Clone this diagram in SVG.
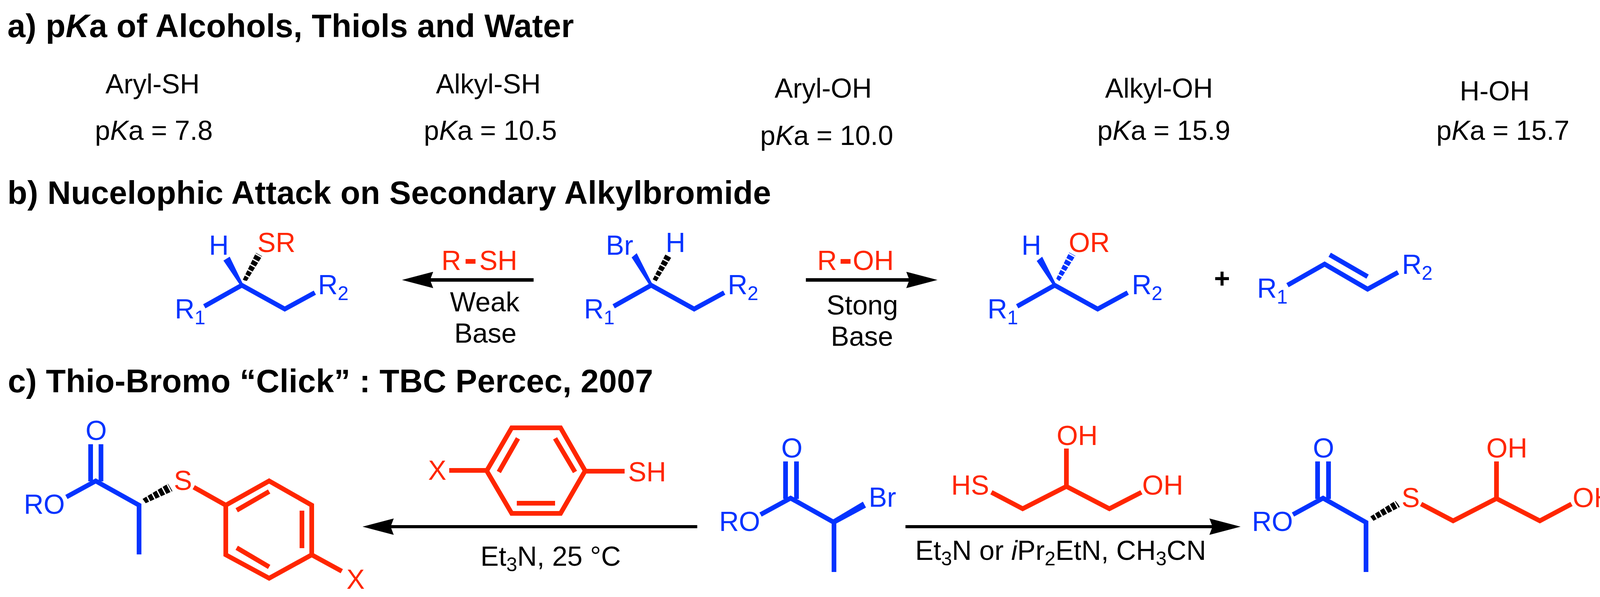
<svg xmlns="http://www.w3.org/2000/svg" width="4150" height="1528" viewBox="0 0 4150 1528">
<style>
text{font-family:"Liberation Sans",Arial,sans-serif;font-size:70px;fill:#000}
.h{font-size:83px;font-weight:bold}
.b{fill:#0433FF}
.r{fill:#FF2600}
.bond{fill:none;stroke-width:12;stroke-linejoin:miter;stroke-miterlimit:6}
.sb{stroke:#0433FF}
.sr{stroke:#FF2600}
.w{fill:#0433FF}
.hash{stroke-width:44;stroke-dasharray:11.5 3.5;fill:none}
.arrow{stroke:#000;stroke-width:9;fill:none;marker-end:url(#head)}
.dash{font-size:100px;font-weight:bold}
</style>
<defs>
<marker id="head" markerUnits="userSpaceOnUse" viewBox="0 0 80 42" refX="10" refY="21" markerWidth="80" markerHeight="42" orient="auto"><path d="M0 0L80 21L0 42L8 21Z" fill="#000"/></marker>
<clipPath id="c1"><polygon points="655,647 671,656 632,719 621,717"/></clipPath>
<clipPath id="c2"><polygon points="1704,650 1718,660 1681,720 1671,715"/></clipPath>
<clipPath id="c3"><polygon points="2737,646 2753,655 2712,720 2704,713"/></clipPath>
<clipPath id="c4"><polygon points="430,1238 442,1257 373,1288 365,1277"/></clipPath>
<clipPath id="c5"><polygon points="3572,1282 3585,1297 3516,1333 3508,1322"/></clipPath>
</defs>
<rect width="4150" height="1528" fill="#fff"/>

<g id="headings">
<text class="h" x="19" y="95" textLength="1450">a) p<tspan font-style="italic">K</tspan>a of Alcohols, Thiols and Water</text>
<text class="h" x="19" y="522" textLength="1955">b) Nucelophic Attack on Secondary Alkylbromide</text>
<text class="h" x="20" y="1004" textLength="1652">c) Thio-Bromo “Click” : TBC Percec, 2007</text>
</g>

<g id="pka-aryl-sh"><text x="270" y="239">Aryl-SH</text><text x="243" y="358">p<tspan font-style="italic">K</tspan>a = 7.8</text></g>
<g id="pka-alkyl-sh"><text x="1116" y="239">Alkyl-SH</text><text x="1085" y="358">p<tspan font-style="italic">K</tspan>a = 10.5</text></g>
<g id="pka-aryl-oh"><text x="1983" y="250">Aryl-OH</text><text x="1946" y="371">p<tspan font-style="italic">K</tspan>a = 10.0</text></g>
<g id="pka-alkyl-oh"><text x="2829" y="250">Alkyl-OH</text><text x="2809" y="358">p<tspan font-style="italic">K</tspan>a = 15.9</text></g>
<g id="pka-h-oh"><text x="3737" y="257">H-OH</text><text x="3677" y="358">p<tspan font-style="italic">K</tspan>a = 15.7</text></g>

<g id="connectors">
<line class="arrow" x1="1366" y1="716.5" x2="1099" y2="716.5"/>
<line class="arrow" x1="2063" y1="716.5" x2="2330" y2="716.5"/>
<line class="arrow" x1="1785" y1="1348" x2="998" y2="1348" style="stroke-width:8"/>
<line class="arrow" x1="2318" y1="1348" x2="3106" y2="1348" style="stroke-width:8"/>
</g>

<g id="b-thioether">
<polyline class="bond sb" points="523,784 619,730 729,791 806,749"/>
<polygon class="w" points="588,657 572,667 614,729 622,727"/>
<line class="hash" stroke="#000" x1="626" y1="718" x2="664" y2="650" clip-path="url(#c1)"/>
<text class="b" x="535" y="652">H</text>
<text class="r" x="659" y="645">SR</text>
<text class="b" x="447.5" y="815">R<tspan font-size="50" dy="15">1</tspan></text>
<text class="b" x="814" y="753">R<tspan font-size="50" dy="15">2</tspan></text>
</g>

<g id="b-reagent-thiol">
<text class="r" x="1130" y="691">R<tspan class="dash" x="1188" dy="4">-</tspan><tspan x="1227" dy="-4">SH</tspan></text>
<text x="1152" y="797">Weak</text>
<text x="1163" y="877">Base</text>
</g>

<g id="b-bromide">
<polyline class="bond sb" points="1571,784 1667,730 1777,791 1854,749"/>
<polygon class="w" points="1630,648 1617,659 1662,729 1670,727"/>
<line class="hash" stroke="#000" x1="1676" y1="718" x2="1711" y2="653" clip-path="url(#c2)"/>
<text class="b" x="1551" y="652">Br</text>
<text class="b" x="1704" y="645">H</text>
<text class="b" x="1495" y="815">R<tspan font-size="50" dy="15">1</tspan></text>
<text class="b" x="1863" y="753">R<tspan font-size="50" dy="15">2</tspan></text>
</g>

<g id="b-reagent-alcohol">
<text class="r" x="2092" y="691">R<tspan class="dash" x="2148" dy="4">-</tspan><tspan x="2183" dy="-4">OH</tspan></text>
<text x="2116" y="805">Stong</text>
<text x="2127" y="885">Base</text>
</g>

<g id="b-ether">
<polyline class="bond sb" points="2604,784 2700,730 2810,791 2887,749"/>
<polygon class="w" points="2668,657 2654,668 2695,729 2703,727"/>
<line class="hash" stroke="#0433FF" x1="2708" y1="717" x2="2745" y2="650" clip-path="url(#c3)"/>
<text class="b" x="2615" y="652">H</text>
<text class="r" x="2736" y="645">OR</text>
<text class="b" x="2528" y="815">R<tspan font-size="50" dy="15">1</tspan></text>
<text class="b" x="2897.5" y="753">R<tspan font-size="50" dy="15">2</tspan></text>
</g>

<g id="b-plus"><text x="3108" y="737" font-weight="bold">+</text></g>

<g id="b-alkene">
<polyline class="bond sb" points="3296,730 3391,676 3501,740 3579,697"/>
<line class="bond sb" x1="3404" y1="652" x2="3501" y2="708"/>
<text class="b" x="3218" y="762">R<tspan font-size="50" dy="15">1</tspan></text>
<text class="b" x="3589" y="701">R<tspan font-size="50" dy="15">2</tspan></text>
</g>

<g id="c-product-aryl">
<polyline class="bond sb" points="170,1272 245,1231 356,1293 356,1419"/>
<line class="bond sb" x1="232" y1="1137" x2="232" y2="1232"/>
<line class="bond sb" x1="258.5" y1="1137" x2="258.5" y2="1232"/>
<line class="hash" stroke="#000" x1="368" y1="1283" x2="436" y2="1247" clip-path="url(#c4)"/>
<polygon class="bond sr" points="689,1231 798,1293 798,1420 689,1480 578,1420 578,1293"/>
<polyline class="bond sr" points="496,1247 578,1293"/>
<line class="bond sr" x1="798" y1="1420" x2="875" y2="1462"/>
<line class="bond sr" x1="689" y1="1258" x2="606" y2="1306"/>
<line class="bond sr" x1="773" y1="1307" x2="773" y2="1403"/>
<line class="bond sr" x1="606" y1="1402" x2="689" y2="1451"/>
<text class="b" x="61" y="1315">RO</text>
<text class="b" x="219" y="1126">O</text>
<text class="r" x="445" y="1254">S</text>
<text class="r" x="887" y="1507">X</text>
</g>

<g id="c-reagent-arylthiol">
<polygon class="bond sr" points="1310,1095 1435,1095 1498,1205 1435,1314 1310,1314 1246,1205"/>
<line class="bond sr" x1="1326" y1="1122" x2="1277" y2="1208"/>
<line class="bond sr" x1="1421" y1="1122" x2="1472" y2="1208"/>
<line class="bond sr" x1="1323" y1="1288" x2="1421" y2="1288"/>
<line class="bond sr" x1="1150" y1="1204" x2="1246" y2="1204"/>
<line class="bond sr" x1="1498" y1="1206" x2="1599" y2="1206"/>
<text class="r" x="1096" y="1228">X</text>
<text class="r" x="1608" y="1232">SH</text>
<text x="1230" y="1448">Et<tspan font-size="50" dy="14">3</tspan><tspan dy="-14">N, 25 °C</tspan></text>
</g>

<g id="c-bromide">
<polyline class="bond sb" points="1947,1317 2024,1275 2135,1337 2135,1464"/>
<line class="bond sb" x1="2011" y1="1181" x2="2011" y2="1277"/>
<line class="bond sb" x1="2039" y1="1181" x2="2039" y2="1277"/>
<polygon class="w" points="2130,1331 2209,1284 2217,1299 2139,1341"/>
<text class="b" x="1841" y="1359">RO</text>
<text class="b" x="2000" y="1171">O</text>
<text class="b" x="2224" y="1297">Br</text>
</g>

<g id="c-reagent-thioglycerol">
<polyline class="bond sr" points="2538,1260 2618,1302 2730,1245 2840,1302 2922,1260"/>
<line class="bond sr" x1="2730" y1="1148" x2="2730" y2="1245"/>
<text class="r" x="2435" y="1266">HS</text>
<text class="r" x="2705" y="1139">OH</text>
<text class="r" x="2924" y="1266">OH</text>
<text x="2343" y="1433">Et<tspan font-size="50" dy="14">3</tspan><tspan dy="-14">N or </tspan><tspan font-style="italic">i</tspan>Pr<tspan font-size="50" dy="14">2</tspan><tspan dy="-14">EtN, CH</tspan><tspan font-size="50" dy="14">3</tspan><tspan dy="-14">CN</tspan></text>
</g>

<g id="c-product-thioglycerol">
<polyline class="bond sb" points="3310,1317 3387,1275 3497,1337 3497,1464"/>
<line class="bond sb" x1="3373" y1="1181" x2="3373" y2="1277"/>
<line class="bond sb" x1="3401" y1="1181" x2="3401" y2="1277"/>
<line class="hash" stroke="#000" x1="3511" y1="1329" x2="3579" y2="1290" clip-path="url(#c5)"/>
<polyline class="bond sr" points="3638,1290 3720,1333 3831,1276 3942,1333 4023,1290"/>
<line class="bond sr" x1="3831" y1="1181" x2="3831" y2="1276"/>
<text class="b" x="3205" y="1359">RO</text>
<text class="b" x="3361" y="1171">O</text>
<text class="r" x="3588" y="1298">S</text>
<text class="r" x="3805" y="1171">OH</text>
<text class="r" x="4026" y="1298">OH</text>
</g>
</svg>
